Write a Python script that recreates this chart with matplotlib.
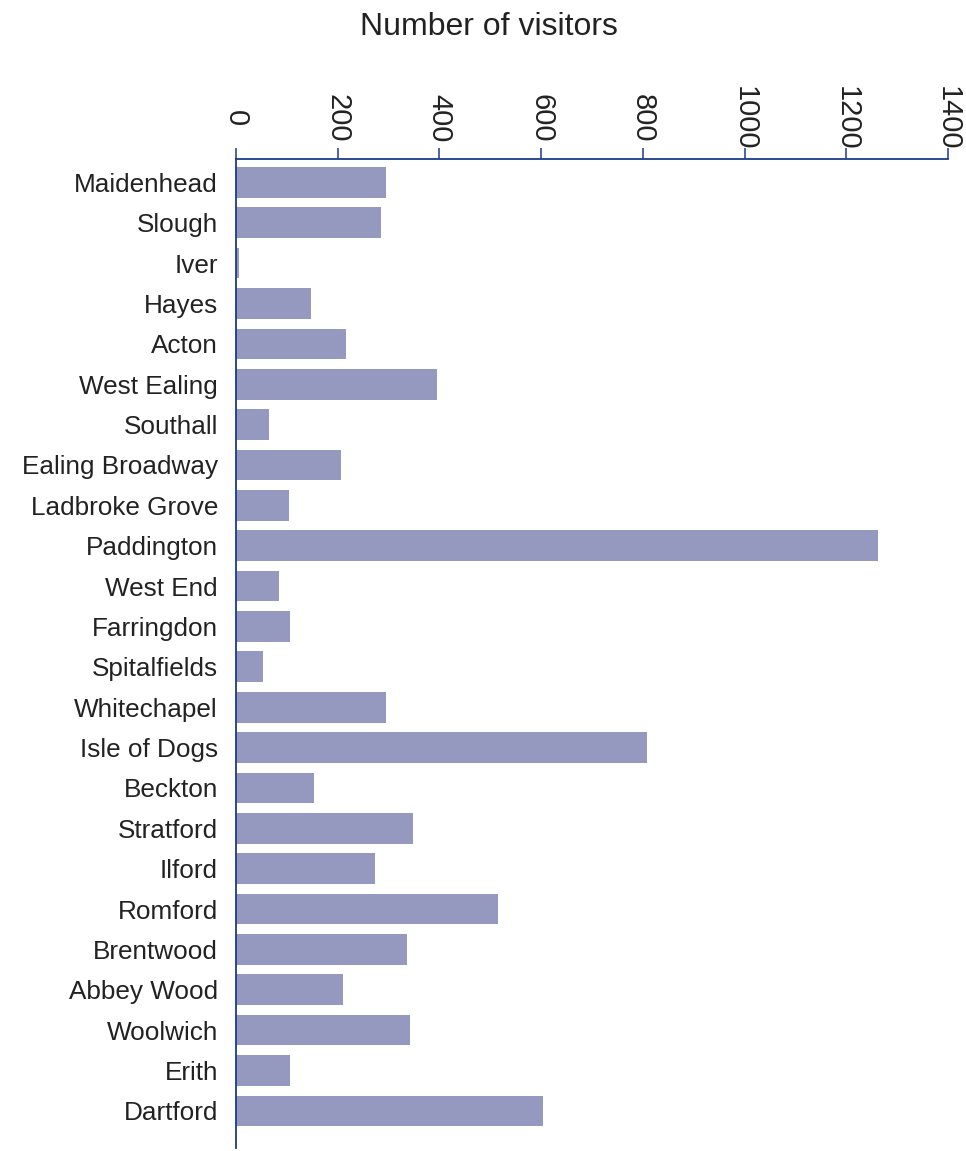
import matplotlib
matplotlib.use("Agg")
import matplotlib.pyplot as plt

categories = ["Maidenhead", "Slough", "Iver", "Hayes", "Acton", "West Ealing",
              "Southall", "Ealing Broadway", "Ladbroke Grove", "Paddington",
              "West End", "Farringdon", "Spitalfields", "Whitechapel",
              "Isle of Dogs", "Beckton", "Stratford", "Ilford", "Romford",
              "Brentwood", "Abbey Wood", "Woolwich", "Erith", "Dartford"]
visitors = [295, 285, 5, 147, 216, 395, 64, 206, 105, 1263,
            84, 106, 53, 295, 808, 154, 348, 273, 516, 336,
            211, 343, 106, 604]
xticks = [0, 200, 400, 600, 800, 1000, 1200, 1400]

BAR = "#9599BF"
SPINE = "#1b3a8a"
TEXT = "#222222"

plt.rcParams['font.family'] = ['Liberation Sans', 'DejaVu Sans']

fig = plt.figure(figsize=(9.66, 11.51), dpi=100)
ax = fig.add_axes([236/966, 1 - 1148/1151, (948-236)/966, (1148-159)/1151])

y = list(range(len(categories)))
ax.barh(y, visitors, height=0.76, color=BAR, zorder=2)

ax.set_xlim(0, 1400)
ax.set_ylim(len(categories) - 1 + 0.92, -0.58)

for s in ["right", "bottom"]:
    ax.spines[s].set_visible(False)
for s in ["top", "left"]:
    ax.spines[s].set_color(SPINE)
    ax.spines[s].set_linewidth(1.3)

ax.xaxis.tick_top()
ax.set_xticks(xticks)
ax.set_xticklabels([str(t) for t in xticks], rotation=-90, va="center",
                   ha="center", fontsize=21, color=TEXT)
ax.tick_params(axis="x", direction="out", length=8, width=1.1, color=SPINE,
               pad=21.5)

ax.set_yticks(y)
ax.set_yticklabels(categories, fontsize=18.8, color=TEXT)
ax.tick_params(axis="y", length=0, pad=13)

fig.text(489/966, 1 - 27/1151, "Number of visitors", ha="center", va="center",
         fontsize=23, color=TEXT)

fig.savefig("out.png", dpi=100)
